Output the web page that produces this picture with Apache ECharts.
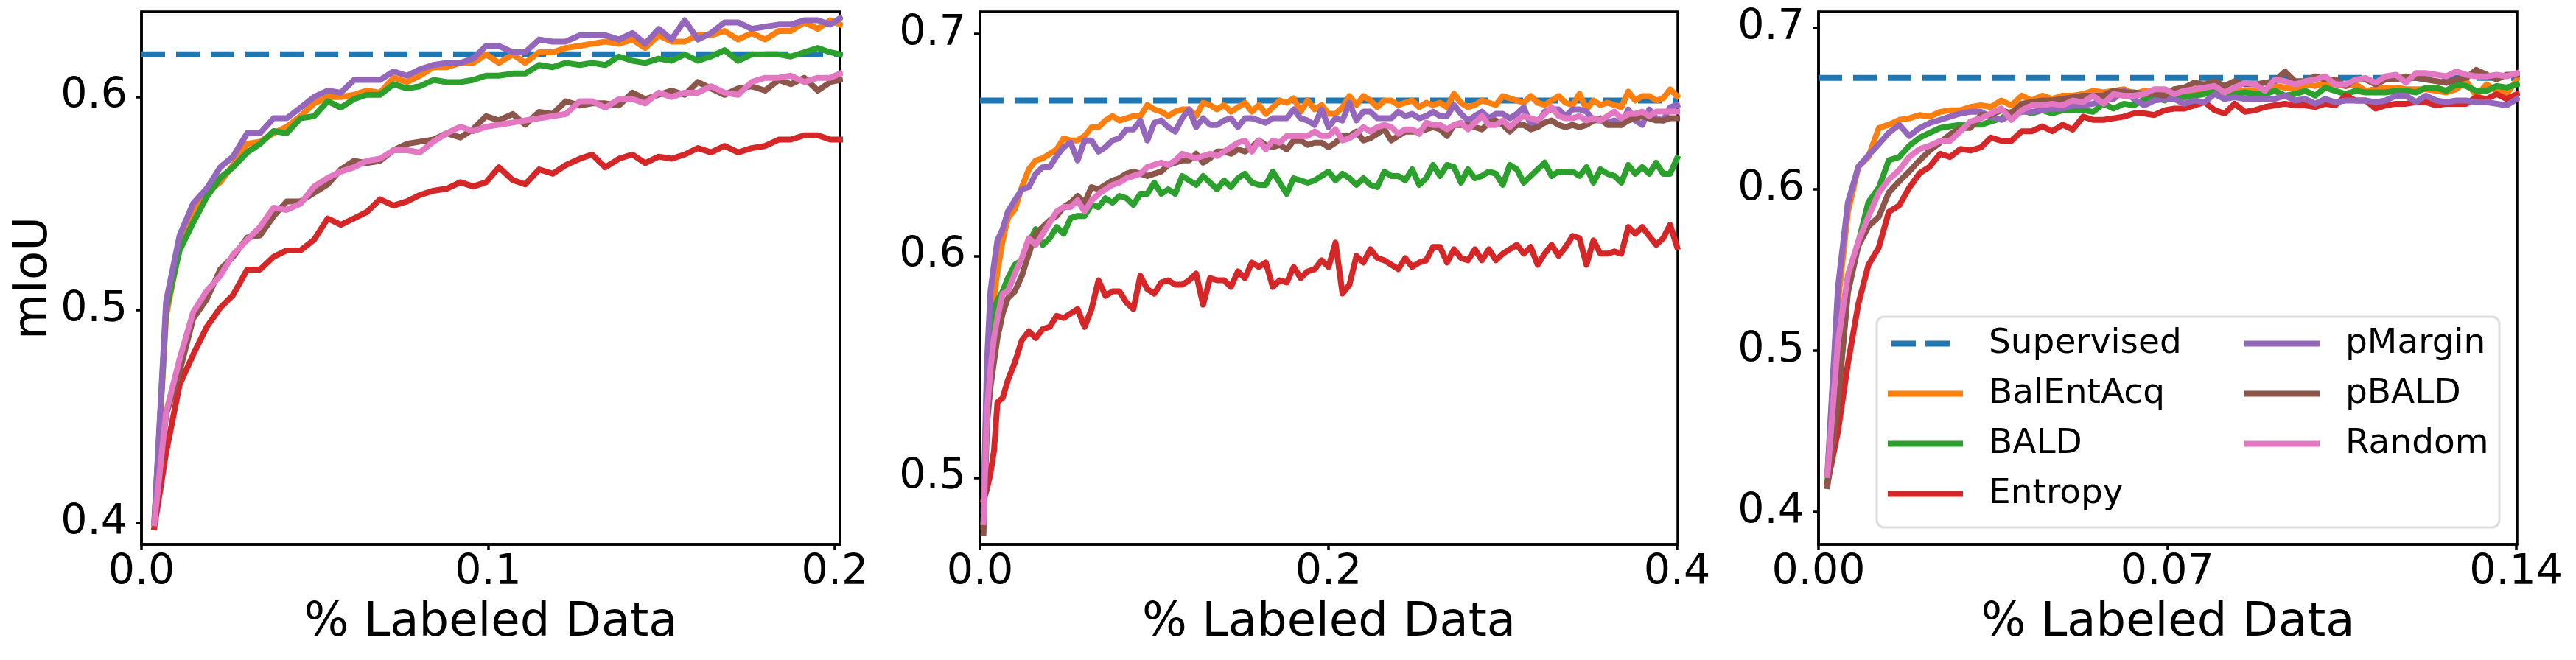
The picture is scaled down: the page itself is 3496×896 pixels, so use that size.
<!DOCTYPE html>
<html lang="en">
<head>
    <meta charset="UTF-8">
    <title>mIoU vs % Labeled Data</title>
    <script src="https://cdn.jsdelivr.net/npm/echarts@6/dist/echarts.min.js"></script>
    <style>
        html, body { margin: 0; padding: 0; background: #fff; }
        #main { width: 3496px; height: 896px; }
    </style>
</head>
<body>
<div id="main"></div>
<script>
    // legend names and matplotlib tab10 colours
    var names = ['Supervised', 'BalEntAcq', 'BALD', 'Entropy', 'pMargin', 'pBALD', 'Random'];
    var colors = ['#1f77b4', '#ff7f0e', '#2ca02c', '#d62728', '#9467bd', '#8c564b', '#e377c2'];

    // ---- panel 1 ----
    var x1 = [0.0037, 0.0071, 0.0110, 0.0149, 0.0188, 0.0227, 0.0264, 0.0305, 0.0342, 0.0381,
        0.0419, 0.0459, 0.0498, 0.0537, 0.0575, 0.0613, 0.0650, 0.0688, 0.0727, 0.0766,
        0.0803, 0.0842, 0.0881, 0.0920, 0.0957, 0.0994, 0.1031, 0.1071, 0.1107, 0.1147,
        0.1186, 0.1224, 0.1264, 0.1300, 0.1338, 0.1377, 0.1416, 0.1453, 0.1492, 0.1529,
        0.1567, 0.1605, 0.1643, 0.1682, 0.1721, 0.1760, 0.1799, 0.1838, 0.1873, 0.1912,
        0.1951, 0.1987, 0.2015];
    var supervised1 = 0.620;
    var balEntAcq1 = [0.400, 0.497, 0.530, 0.547, 0.555, 0.560, 0.568, 0.578, 0.579, 0.583, 0.586, 0.591, 0.597, 0.600, 0.600, 0.601, 0.603, 0.602, 0.609, 0.607, 0.610, 0.614, 0.614, 0.616, 0.616, 0.620,
        0.616, 0.620, 0.616, 0.621, 0.621, 0.623, 0.624, 0.625, 0.626, 0.625, 0.627, 0.623, 0.629, 0.626, 0.626, 0.629, 0.629, 0.631, 0.627, 0.630, 0.627, 0.631, 0.631, 0.635, 0.632, 0.636, 0.634];
    var bald1 = [0.400, 0.500, 0.528, 0.541, 0.553, 0.562, 0.567, 0.574, 0.578, 0.584, 0.583, 0.590, 0.591, 0.598, 0.595, 0.599, 0.601, 0.601, 0.606, 0.604, 0.605, 0.608, 0.607, 0.607, 0.608, 0.610,
        0.610, 0.611, 0.611, 0.615, 0.614, 0.616, 0.615, 0.616, 0.615, 0.619, 0.617, 0.616, 0.618, 0.617, 0.620, 0.617, 0.619, 0.622, 0.617, 0.620, 0.620, 0.620, 0.619, 0.621, 0.623, 0.621, 0.620];
    var entropy1 = [0.398, 0.433, 0.465, 0.479, 0.492, 0.501, 0.507, 0.519, 0.519, 0.525, 0.528, 0.528, 0.533, 0.543, 0.540, 0.543, 0.546, 0.552, 0.549, 0.551, 0.554, 0.556, 0.557, 0.560, 0.558, 0.560,
        0.567, 0.561, 0.559, 0.566, 0.564, 0.568, 0.571, 0.573, 0.567, 0.571, 0.573, 0.569, 0.572, 0.571, 0.573, 0.576, 0.574, 0.577, 0.574, 0.576, 0.577, 0.580, 0.580, 0.582, 0.582, 0.580, 0.580];
    var pMargin1 = [0.400, 0.504, 0.535, 0.550, 0.557, 0.567, 0.572, 0.583, 0.583, 0.590, 0.590, 0.595, 0.600, 0.603, 0.602, 0.608, 0.608, 0.608, 0.612, 0.610, 0.613, 0.615, 0.616, 0.616, 0.618, 0.624,
        0.624, 0.621, 0.621, 0.627, 0.626, 0.626, 0.629, 0.629, 0.629, 0.627, 0.630, 0.625, 0.632, 0.627, 0.636, 0.627, 0.630, 0.635, 0.635, 0.632, 0.633, 0.634, 0.634, 0.636, 0.636, 0.634, 0.637];
    var pBald1 = [0.400, 0.451, 0.471, 0.496, 0.505, 0.519, 0.525, 0.534, 0.535, 0.544, 0.551, 0.551, 0.555, 0.559, 0.566, 0.570, 0.569, 0.570, 0.575, 0.578, 0.579, 0.580, 0.583, 0.581, 0.585, 0.591,
        0.589, 0.592, 0.587, 0.593, 0.592, 0.598, 0.596, 0.597, 0.597, 0.596, 0.602, 0.599, 0.601, 0.603, 0.601, 0.607, 0.604, 0.601, 0.604, 0.605, 0.603, 0.608, 0.606, 0.609, 0.603, 0.607, 0.608];
    var random1 = [0.400, 0.452, 0.477, 0.499, 0.509, 0.516, 0.526, 0.533, 0.539, 0.548, 0.547, 0.550, 0.558, 0.562, 0.565, 0.567, 0.570, 0.571, 0.575, 0.575, 0.574, 0.579, 0.583, 0.586, 0.584, 0.586,
        0.587, 0.588, 0.589, 0.590, 0.591, 0.592, 0.598, 0.598, 0.595, 0.599, 0.599, 0.597, 0.602, 0.600, 0.602, 0.602, 0.605, 0.602, 0.601, 0.607, 0.609, 0.609, 0.610, 0.607, 0.609, 0.609, 0.611];
    var xTicks1 = [0.0, 0.1, 0.2];
    var yTicks1 = [0.4, 0.5, 0.6];

    // ---- panel 2 ----
    var x2 = [0.002, 0.004, 0.006, 0.008, 0.010, 0.013, 0.016,
        0.020, 0.024, 0.028, 0.032, 0.036, 0.040, 0.044, 0.048, 0.052, 0.056, 0.060, 0.064, 0.068, 0.072, 0.076,
        0.080, 0.084, 0.088, 0.092, 0.096, 0.100, 0.104, 0.108, 0.112, 0.116, 0.120, 0.124, 0.128, 0.132, 0.136,
        0.140, 0.144, 0.148, 0.152, 0.156, 0.160, 0.164, 0.168, 0.172, 0.176, 0.180, 0.184, 0.188, 0.192, 0.196,
        0.200, 0.204, 0.208, 0.212, 0.216, 0.220, 0.224, 0.228, 0.232, 0.236, 0.240, 0.244, 0.248, 0.252, 0.256,
        0.260, 0.264, 0.268, 0.272, 0.276, 0.280, 0.284, 0.288, 0.292, 0.296, 0.300, 0.304, 0.308, 0.312, 0.316,
        0.320, 0.324, 0.328, 0.332, 0.336, 0.340, 0.344, 0.348, 0.352, 0.356, 0.360, 0.364, 0.368, 0.372, 0.376,
        0.380, 0.384, 0.388, 0.392, 0.396, 0.400];
    var supervised2 = 0.670;
    var balEntAcq2 = [0.478, 0.535, 0.568, 0.581, 0.593, 0.607, 0.617,
        0.621, 0.631, 0.639, 0.643, 0.644, 0.646, 0.648, 0.653, 0.652, 0.652, 0.654, 0.658, 0.658, 0.661, 0.663, 0.661, 0.662, 0.663, 0.663, 0.668, 0.666, 0.665, 0.663, 0.665, 0.666, 0.666, 0.663, 0.669, 0.668, 0.666,
        0.668, 0.665, 0.667, 0.669, 0.665, 0.668, 0.664, 0.667, 0.670, 0.669, 0.671, 0.665, 0.670, 0.666, 0.668, 0.664, 0.664, 0.667, 0.672, 0.668, 0.672, 0.670, 0.667, 0.670, 0.670, 0.668, 0.669, 0.670, 0.667, 0.669, 0.668, 0.669, 0.667,
        0.673, 0.669, 0.667, 0.668, 0.670, 0.669, 0.668, 0.672, 0.671, 0.670, 0.669, 0.672, 0.669, 0.668, 0.670, 0.672, 0.669, 0.668, 0.673, 0.666, 0.670, 0.668, 0.669, 0.668, 0.667, 0.674, 0.670, 0.672, 0.672, 0.670, 0.671, 0.675, 0.672];
    var bald2 = [0.480, 0.546, 0.568, 0.576, 0.580, 0.584, 0.590,
        0.596, 0.598, 0.606, 0.612, 0.605, 0.608, 0.613, 0.610, 0.617, 0.618, 0.618, 0.623, 0.622, 0.626, 0.624, 0.627, 0.626, 0.623, 0.628, 0.628, 0.633, 0.628, 0.630, 0.628, 0.636, 0.634, 0.632, 0.636, 0.633, 0.630,
        0.634, 0.631, 0.635, 0.637, 0.633, 0.632, 0.632, 0.638, 0.633, 0.628, 0.635, 0.634, 0.633, 0.634, 0.636, 0.638, 0.634, 0.637, 0.635, 0.632, 0.635, 0.632, 0.631, 0.638, 0.636, 0.636, 0.634, 0.639, 0.632, 0.635, 0.641, 0.636, 0.641,
        0.640, 0.633, 0.639, 0.635, 0.636, 0.638, 0.637, 0.632, 0.641, 0.639, 0.633, 0.636, 0.639, 0.642, 0.636, 0.638, 0.638, 0.638, 0.636, 0.640, 0.633, 0.639, 0.637, 0.636, 0.633, 0.641, 0.637, 0.640, 0.637, 0.642, 0.637, 0.637, 0.644];
    var entropy2 = [0.490, 0.495, 0.502, 0.512, 0.534, 0.536, 0.544,
        0.552, 0.562, 0.566, 0.563, 0.567, 0.568, 0.573, 0.572, 0.574, 0.576, 0.568, 0.576, 0.589, 0.582, 0.584, 0.584, 0.579, 0.576, 0.591, 0.585, 0.583, 0.588, 0.589, 0.587, 0.587, 0.589, 0.592, 0.578, 0.590, 0.589,
        0.589, 0.586, 0.593, 0.590, 0.597, 0.595, 0.597, 0.586, 0.589, 0.588, 0.595, 0.590, 0.593, 0.594, 0.598, 0.595, 0.606, 0.583, 0.587, 0.600, 0.597, 0.603, 0.599, 0.598, 0.596, 0.594, 0.599, 0.595, 0.597, 0.598, 0.604, 0.604, 0.597,
        0.603, 0.599, 0.598, 0.603, 0.598, 0.603, 0.598, 0.601, 0.603, 0.605, 0.601, 0.604, 0.596, 0.601, 0.605, 0.600, 0.604, 0.609, 0.608, 0.596, 0.607, 0.601, 0.601, 0.602, 0.601, 0.613, 0.610, 0.613, 0.609, 0.605, 0.608, 0.614, 0.604];
    var pMargin2 = [0.485, 0.552, 0.584, 0.596, 0.607, 0.612, 0.620,
        0.625, 0.630, 0.631, 0.637, 0.640, 0.640, 0.645, 0.649, 0.651, 0.643, 0.652, 0.652, 0.647, 0.649, 0.652, 0.653, 0.657, 0.657, 0.661, 0.652, 0.660, 0.661, 0.658, 0.656, 0.662, 0.666, 0.658, 0.662, 0.659, 0.659,
        0.661, 0.662, 0.658, 0.662, 0.662, 0.661, 0.660, 0.662, 0.662, 0.662, 0.666, 0.662, 0.661, 0.659, 0.666, 0.658, 0.662, 0.661, 0.669, 0.661, 0.665, 0.665, 0.662, 0.662, 0.662, 0.665, 0.663, 0.664, 0.662, 0.663, 0.665, 0.663, 0.663,
        0.668, 0.664, 0.661, 0.663, 0.665, 0.662, 0.664, 0.664, 0.662, 0.664, 0.667, 0.659, 0.660, 0.665, 0.666, 0.666, 0.663, 0.666, 0.666, 0.665, 0.661, 0.661, 0.660, 0.661, 0.659, 0.666, 0.661, 0.659, 0.666, 0.662, 0.661, 0.667, 0.668];
    var pBald2 = [0.475, 0.524, 0.541, 0.552, 0.563, 0.574, 0.581,
        0.584, 0.591, 0.601, 0.610, 0.613, 0.616, 0.618, 0.622, 0.624, 0.627, 0.624, 0.631, 0.630, 0.632, 0.634, 0.635, 0.637, 0.638, 0.637, 0.636, 0.637, 0.638, 0.641, 0.642, 0.643, 0.643, 0.646, 0.642, 0.644, 0.647,
        0.647, 0.646, 0.648, 0.647, 0.649, 0.652, 0.650, 0.649, 0.650, 0.648, 0.652, 0.652, 0.650, 0.651, 0.651, 0.649, 0.651, 0.654, 0.654, 0.656, 0.652, 0.653, 0.655, 0.657, 0.652, 0.654, 0.656, 0.656, 0.656, 0.657, 0.658, 0.657, 0.654,
        0.659, 0.659, 0.659, 0.658, 0.657, 0.660, 0.661, 0.659, 0.656, 0.659, 0.659, 0.657, 0.658, 0.660, 0.661, 0.659, 0.658, 0.659, 0.658, 0.659, 0.661, 0.662, 0.659, 0.659, 0.659, 0.661, 0.662, 0.663, 0.662, 0.661, 0.661, 0.662, 0.662];
    var random2 = [0.480, 0.530, 0.549, 0.563, 0.572, 0.583, 0.584,
        0.592, 0.599, 0.608, 0.605, 0.610, 0.615, 0.620, 0.622, 0.622, 0.625, 0.620, 0.625, 0.628, 0.630, 0.632, 0.633, 0.635, 0.636, 0.637, 0.640, 0.641, 0.642, 0.641, 0.643, 0.646, 0.645, 0.644, 0.645, 0.646, 0.645,
        0.647, 0.649, 0.651, 0.652, 0.647, 0.652, 0.648, 0.652, 0.651, 0.654, 0.654, 0.654, 0.654, 0.656, 0.654, 0.654, 0.657, 0.652, 0.653, 0.655, 0.658, 0.656, 0.658, 0.659, 0.658, 0.655, 0.657, 0.657, 0.655, 0.660, 0.659, 0.659, 0.657,
        0.659, 0.660, 0.657, 0.660, 0.663, 0.659, 0.659, 0.661, 0.658, 0.661, 0.663, 0.662, 0.661, 0.664, 0.667, 0.663, 0.662, 0.662, 0.663, 0.661, 0.662, 0.661, 0.663, 0.665, 0.662, 0.664, 0.664, 0.665, 0.663, 0.665, 0.665, 0.665, 0.665];
    var xTicks2 = [0.0, 0.2, 0.4];
    var yTicks2 = [0.5, 0.6, 0.7];

    // ---- panel 3 ----
    var x3 = [0.0018, 0.0039, 0.0059, 0.0080, 0.0100, 0.0121, 0.0141, 0.0162, 0.0182, 0.0203,
        0.0223, 0.0244, 0.0264, 0.0285, 0.0305, 0.0326, 0.0346, 0.0367, 0.0387, 0.0408,
        0.0428, 0.0449, 0.0469, 0.0490, 0.0510, 0.0531, 0.0551, 0.0572, 0.0592, 0.0613,
        0.0633, 0.0654, 0.0674, 0.0695,
        0.0714, 0.0734, 0.0754, 0.0775, 0.0795, 0.0815, 0.0835, 0.0856, 0.0876, 0.0896,
        0.0916, 0.0936, 0.0956, 0.0977, 0.0997, 0.1017, 0.1037, 0.1058, 0.1078, 0.1098,
        0.1118, 0.1138, 0.1159, 0.1179, 0.1199, 0.1219, 0.1240, 0.1260, 0.1280, 0.1300,
        0.1320, 0.1341, 0.1361, 0.1381, 0.1402];
    var supervised3 = 0.669;
    var balEntAcq3 = [0.424, 0.530, 0.586, 0.614, 0.620, 0.638, 0.640, 0.643, 0.644, 0.646, 0.645, 0.648, 0.649, 0.649, 0.651, 0.652, 0.651, 0.655, 0.652, 0.658, 0.655, 0.658, 0.656, 0.658, 0.658, 0.659, 0.661, 0.660, 0.661, 0.662, 0.659, 0.661, 0.660, 0.659,
        0.660, 0.659, 0.659, 0.661, 0.661, 0.661, 0.661, 0.661, 0.661, 0.661, 0.664, 0.663, 0.662, 0.665, 0.664, 0.666, 0.665, 0.664, 0.665, 0.661, 0.662, 0.663, 0.663, 0.662, 0.662, 0.662, 0.661, 0.660, 0.662, 0.667, 0.658, 0.665, 0.661, 0.659, 0.668];
    var bald3 = [0.420, 0.470, 0.538, 0.567, 0.592, 0.601, 0.618, 0.620, 0.627, 0.632, 0.635, 0.638, 0.639, 0.640, 0.640, 0.640, 0.642, 0.644, 0.648, 0.649, 0.647, 0.649, 0.647, 0.649, 0.649, 0.649, 0.648, 0.653, 0.650, 0.653, 0.652, 0.656, 0.657, 0.655,
        0.659, 0.657, 0.658, 0.659, 0.661, 0.656, 0.659, 0.660, 0.659, 0.659, 0.661, 0.658, 0.659, 0.661, 0.658, 0.663, 0.661, 0.659, 0.661, 0.660, 0.660, 0.660, 0.661, 0.661, 0.660, 0.663, 0.663, 0.661, 0.665, 0.664, 0.661, 0.661, 0.664, 0.663, 0.665];
    var entropy3 = [0.418, 0.450, 0.492, 0.529, 0.553, 0.564, 0.586, 0.590, 0.601, 0.610, 0.614, 0.622, 0.620, 0.625, 0.624, 0.626, 0.632, 0.630, 0.630, 0.636, 0.636, 0.639, 0.636, 0.640, 0.637, 0.645, 0.643, 0.643, 0.644, 0.645, 0.647, 0.647, 0.646, 0.649,
        0.650, 0.650, 0.652, 0.654, 0.649, 0.647, 0.653, 0.648, 0.649, 0.651, 0.652, 0.653, 0.652, 0.652, 0.651, 0.653, 0.652, 0.658, 0.655, 0.655, 0.650, 0.652, 0.653, 0.653, 0.654, 0.654, 0.652, 0.653, 0.653, 0.653, 0.657, 0.656, 0.659, 0.656, 0.659];
    var pMargin3 = [0.424, 0.539, 0.592, 0.614, 0.621, 0.628, 0.635, 0.640, 0.633, 0.638, 0.641, 0.643, 0.645, 0.647, 0.648, 0.648, 0.645, 0.643, 0.646, 0.648, 0.648, 0.649, 0.650, 0.650, 0.652, 0.652, 0.653, 0.655, 0.656, 0.661, 0.656, 0.652, 0.655, 0.656,
        0.656, 0.653, 0.655, 0.654, 0.659, 0.656, 0.657, 0.656, 0.656, 0.656, 0.656, 0.658, 0.655, 0.656, 0.653, 0.656, 0.654, 0.655, 0.655, 0.655, 0.654, 0.655, 0.658, 0.658, 0.654, 0.658, 0.655, 0.654, 0.655, 0.655, 0.654, 0.654, 0.653, 0.652, 0.656];
    var pBald3 = [0.416, 0.468, 0.536, 0.565, 0.577, 0.583, 0.598, 0.605, 0.611, 0.618, 0.624, 0.629, 0.634, 0.638, 0.638, 0.646, 0.646, 0.649, 0.647, 0.653, 0.654, 0.655, 0.655, 0.656, 0.657, 0.658, 0.658, 0.658, 0.661, 0.660, 0.660, 0.659, 0.659, 0.658,
        0.662, 0.663, 0.666, 0.665, 0.667, 0.664, 0.667, 0.665, 0.665, 0.666, 0.667, 0.673, 0.667, 0.667, 0.670, 0.668, 0.668, 0.664, 0.668, 0.668, 0.665, 0.668, 0.668, 0.670, 0.669, 0.668, 0.667, 0.666, 0.668, 0.669, 0.674, 0.671, 0.668, 0.671, 0.671];
    var random3 = [0.423, 0.505, 0.547, 0.568, 0.583, 0.598, 0.606, 0.612, 0.620, 0.625, 0.627, 0.630, 0.630, 0.636, 0.642, 0.644, 0.647, 0.650, 0.643, 0.649, 0.652, 0.652, 0.653, 0.652, 0.655, 0.654, 0.658, 0.653, 0.659, 0.658, 0.658, 0.659, 0.662, 0.662,
        0.659, 0.661, 0.662, 0.663, 0.664, 0.660, 0.663, 0.666, 0.665, 0.661, 0.668, 0.667, 0.665, 0.667, 0.668, 0.670, 0.665, 0.665, 0.668, 0.669, 0.666, 0.670, 0.671, 0.666, 0.672, 0.672, 0.671, 0.670, 0.673, 0.671, 0.670, 0.670, 0.671, 0.670, 0.672];
    var xTicks3 = [0.00, 0.07, 0.14];
    var yTicks3 = [0.4, 0.5, 0.6, 0.7];

    var font = 'DejaVu Sans';
    var lineW = 8;

    var panels = [
        {x: x1, sup: supervised1, lines: [balEntAcq1, bald1, entropy1, pMargin1, pBald1, random1],
            left: 192, width: 948, xMax: 0.2015, yMin: 0.39, yMax: 0.64, xTicks: xTicks1, xDec: 1, yTicks: yTicks1},
        {x: x2, sup: supervised2, lines: [balEntAcq2, bald2, entropy2, pMargin2, pBald2, random2],
            left: 1330, width: 947, xMax: 0.4004, yMin: 0.47, yMax: 0.71, xTicks: xTicks2, xDec: 1, yTicks: yTicks2},
        {x: x3, sup: supervised3, lines: [balEntAcq3, bald3, entropy3, pMargin3, pBald3, random3],
            left: 2468, width: 948, xMax: 0.1402, yMin: 0.38, yMax: 0.71, xTicks: xTicks3, xDec: 2, yTicks: yTicks3}
    ];

    var grids = [], xAxes = [], yAxes = [], series = [];

    panels.forEach(function (p, i) {
        grids.push({
            left: p.left, top: 16, width: p.width, height: 723,
            show: true, z: 3, backgroundColor: 'transparent',
            borderColor: '#000', borderWidth: 3.5
        });
        xAxes.push({
            gridIndex: i, type: 'value', min: 0, max: p.xMax, z: 3,
            axisLine: {show: true, lineStyle: {color: '#000', width: 3.5}},
            axisTick: {show: true, customValues: p.xTicks, length: 8, lineStyle: {color: '#000', width: 3.5}},
            axisLabel: {
                customValues: p.xTicks, margin: 11, color: '#000', fontSize: 57, fontFamily: font,
                formatter: (function (d) { return function (v) { return v.toFixed(d); }; })(p.xDec)
            },
            splitLine: {show: false},
            name: '% Labeled Data', nameLocation: 'middle', nameGap: 75,
            nameTextStyle: {color: '#000', fontSize: 64, fontFamily: font}
        });
        yAxes.push({
            gridIndex: i, type: 'value', min: p.yMin, max: p.yMax, z: 3,
            axisLine: {show: true, lineStyle: {color: '#000', width: 3.5}},
            axisTick: {show: true, customValues: p.yTicks, length: 8, lineStyle: {color: '#000', width: 3.5}},
            axisLabel: {
                customValues: p.yTicks, margin: 19, color: '#000', fontSize: 57, fontFamily: font,
                formatter: function (v) { return v.toFixed(1); }
            },
            splitLine: {show: false},
            name: i === 0 ? 'mIoU' : '', nameLocation: 'middle', nameGap: 111,
            nameTextStyle: {color: '#000', fontSize: 64, fontFamily: font}
        });

        // dashed supervised reference across the whole panel
        series.push({
            name: names[0], type: 'line', xAxisIndex: i, yAxisIndex: i,
            data: [[0, p.sup], [p.xMax, p.sup]],
            symbol: 'none', silent: true,
            lineStyle: {color: colors[0], width: lineW, type: [32, 15]},
            itemStyle: {color: colors[0]}
        });
        p.lines.forEach(function (ys, k) {
            series.push({
                name: names[k + 1], type: 'line', xAxisIndex: i, yAxisIndex: i,
                data: p.x.map(function (xv, j) { return [xv, ys[j]]; }),
                symbol: 'none', silent: true,
                lineStyle: {color: colors[k + 1], width: lineW, join: 'round', cap: 'square'},
                itemStyle: {color: colors[k + 1]}
            });
        });
    });

    // legend handles: a dashed bar for Supervised, solid bars for the rest
    var dashIcon = 'path://M0,0h0.01v8h-0.01z M5,0h33v8h-33z M51,0h33v8h-33z M101.99,0h0.01v8h-0.01z';
    function legendItems(list) {
        return list.map(function (n) {
            return {name: n, icon: n === 'Supervised' ? dashIcon : 'rect'};
        });
    }

    var legendBase = {
        orient: 'vertical', top: 443, padding: 0, z: 5,
        itemWidth: 102, itemHeight: 8, itemGap: 21,
        selectedMode: false,
        itemStyle: {borderWidth: 0},
        textStyle: {color: '#000', fontSize: 47, fontFamily: font, lineHeight: 47, padding: [0, 0, 0, 30]}
    };

    var myChart = echarts.init(document.getElementById('main'));
    myChart.setOption({
        animation: false,
        backgroundColor: '#fff',
        grid: grids,
        xAxis: xAxes,
        yAxis: yAxes,
        legend: [
            Object.assign({}, legendBase, {left: 2562, data: legendItems(names.slice(0, 4))}),
            Object.assign({}, legendBase, {left: 3046, data: legendItems(names.slice(4))})
        ],
        graphic: [{
            type: 'rect', z: 4,
            shape: {x: 2547, y: 430, width: 845, height: 286, r: 10},
            style: {fill: 'rgba(255,255,255,0.8)', stroke: '#dddddd', lineWidth: 3}
        }],
        series: series
    });
</script>
</body>
</html>
